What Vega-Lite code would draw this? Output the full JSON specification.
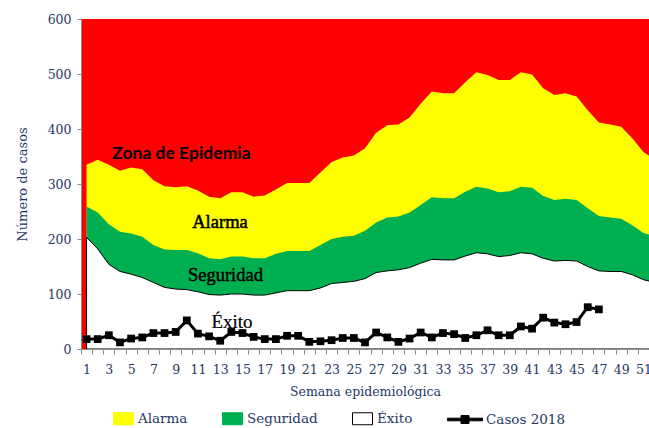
{
  "$schema": "https://vega.github.io/schema/vega-lite/v6.json",
  "width": 568,
  "height": 330,
  "autosize": {"type": "none"},
  "padding": {"left": 81, "top": 19, "right": 0, "bottom": 79},
  "background": "white",
  "view": {"fill": "#FF0000", "stroke": null},
  "resolve": {"axis": {"x": "independent", "y": "independent"}},
  "config": {
    "axis": {
      "labelOverlap": false,
      "labelFlush": false,
      "labelBound": false,
      "grid": false,
      "tickColor": "#8c8c8c",
      "domainColor": "#8c8c8c",
      "labelColor": "#1F3864",
      "titleColor": "#1F3864",
      "labelFont": "DejaVu Serif",
      "labelFontSize": 12.5,
      "titleFont": "DejaVu Serif",
      "titleFontWeight": "normal",
      "zindex": 1
    },
    "axisX": {"tickSize": 5, "tickOffset": -5.57, "labelOffset": 5.57, "labelPadding": 9, "titlePadding": 10, "titleFontSize": 12.5},
    "axisY": {"tickSize": 4, "labelPadding": 6, "titlePadding": 18, "titleFontSize": 13},
    "legend": {
      "labelFont": "DejaVu Serif",
      "labelFontSize": 13.5,
      "labelColor": "#1F3864",
      "symbolSize": 400,
      "symbolStrokeWidth": 1,
      "columnPadding": 32,
      "labelOffset": 4,
      "padding": 0
    }
  },
  "layer": [
    {
      "data": {
        "values": [
          {"semana": 1, "Alarma": 335, "Seguridad": 259, "Éxito": 203, "Casos 2018": 18},
          {"semana": 2, "Alarma": 344, "Seguridad": 248, "Éxito": 182, "Casos 2018": 18},
          {"semana": 3, "Alarma": 335, "Seguridad": 227, "Éxito": 154, "Casos 2018": 25},
          {"semana": 4, "Alarma": 324, "Seguridad": 213, "Éxito": 141, "Casos 2018": 12},
          {"semana": 5, "Alarma": 330, "Seguridad": 210, "Éxito": 136, "Casos 2018": 19},
          {"semana": 6, "Alarma": 327, "Seguridad": 204, "Éxito": 130, "Casos 2018": 21},
          {"semana": 7, "Alarma": 307, "Seguridad": 189, "Éxito": 121, "Casos 2018": 29},
          {"semana": 8, "Alarma": 296, "Seguridad": 181, "Éxito": 112, "Casos 2018": 29},
          {"semana": 9, "Alarma": 294, "Seguridad": 180, "Éxito": 109, "Casos 2018": 31},
          {"semana": 10, "Alarma": 296, "Seguridad": 180, "Éxito": 108, "Casos 2018": 52},
          {"semana": 11, "Alarma": 288, "Seguridad": 174, "Éxito": 104, "Casos 2018": 28},
          {"semana": 12, "Alarma": 277, "Seguridad": 165, "Éxito": 99, "Casos 2018": 23},
          {"semana": 13, "Alarma": 274, "Seguridad": 163, "Éxito": 98, "Casos 2018": 15},
          {"semana": 14, "Alarma": 285, "Seguridad": 168, "Éxito": 100, "Casos 2018": 31},
          {"semana": 15, "Alarma": 285, "Seguridad": 168, "Éxito": 100, "Casos 2018": 29},
          {"semana": 16, "Alarma": 277, "Seguridad": 165, "Éxito": 98, "Casos 2018": 22},
          {"semana": 17, "Alarma": 279, "Seguridad": 165, "Éxito": 98, "Casos 2018": 18},
          {"semana": 18, "Alarma": 290, "Seguridad": 173, "Éxito": 102, "Casos 2018": 18},
          {"semana": 19, "Alarma": 302, "Seguridad": 178, "Éxito": 106, "Casos 2018": 24},
          {"semana": 20, "Alarma": 302, "Seguridad": 178, "Éxito": 106, "Casos 2018": 24},
          {"semana": 21, "Alarma": 302, "Seguridad": 178, "Éxito": 106, "Casos 2018": 13},
          {"semana": 22, "Alarma": 321, "Seguridad": 189, "Éxito": 111, "Casos 2018": 14},
          {"semana": 23, "Alarma": 340, "Seguridad": 200, "Éxito": 119, "Casos 2018": 16},
          {"semana": 24, "Alarma": 348, "Seguridad": 204, "Éxito": 121, "Casos 2018": 20},
          {"semana": 25, "Alarma": 352, "Seguridad": 206, "Éxito": 123, "Casos 2018": 20},
          {"semana": 26, "Alarma": 365, "Seguridad": 215, "Éxito": 128, "Casos 2018": 12},
          {"semana": 27, "Alarma": 393, "Seguridad": 230, "Éxito": 139, "Casos 2018": 30},
          {"semana": 28, "Alarma": 407, "Seguridad": 239, "Éxito": 142, "Casos 2018": 21},
          {"semana": 29, "Alarma": 408, "Seguridad": 241, "Éxito": 144, "Casos 2018": 13},
          {"semana": 30, "Alarma": 421, "Seguridad": 248, "Éxito": 148, "Casos 2018": 19},
          {"semana": 31, "Alarma": 446, "Seguridad": 262, "Éxito": 156, "Casos 2018": 30},
          {"semana": 32, "Alarma": 468, "Seguridad": 276, "Éxito": 163, "Casos 2018": 21},
          {"semana": 33, "Alarma": 465, "Seguridad": 274, "Éxito": 162, "Casos 2018": 29},
          {"semana": 34, "Alarma": 465, "Seguridad": 274, "Éxito": 162, "Casos 2018": 27},
          {"semana": 35, "Alarma": 485, "Seguridad": 286, "Éxito": 169, "Casos 2018": 20},
          {"semana": 36, "Alarma": 503, "Seguridad": 295, "Éxito": 175, "Casos 2018": 25},
          {"semana": 37, "Alarma": 498, "Seguridad": 292, "Éxito": 173, "Casos 2018": 34},
          {"semana": 38, "Alarma": 489, "Seguridad": 285, "Éxito": 168, "Casos 2018": 25},
          {"semana": 39, "Alarma": 489, "Seguridad": 287, "Éxito": 170, "Casos 2018": 25},
          {"semana": 40, "Alarma": 503, "Seguridad": 295, "Éxito": 175, "Casos 2018": 41},
          {"semana": 41, "Alarma": 499, "Seguridad": 293, "Éxito": 173, "Casos 2018": 37},
          {"semana": 42, "Alarma": 474, "Seguridad": 278, "Éxito": 165, "Casos 2018": 57},
          {"semana": 43, "Alarma": 462, "Seguridad": 271, "Éxito": 160, "Casos 2018": 48},
          {"semana": 44, "Alarma": 465, "Seguridad": 273, "Éxito": 161, "Casos 2018": 45},
          {"semana": 45, "Alarma": 459, "Seguridad": 271, "Éxito": 160, "Casos 2018": 49},
          {"semana": 46, "Alarma": 434, "Seguridad": 256, "Éxito": 150, "Casos 2018": 76},
          {"semana": 47, "Alarma": 412, "Seguridad": 242, "Éxito": 142, "Casos 2018": 72},
          {"semana": 48, "Alarma": 408, "Seguridad": 239, "Éxito": 141},
          {"semana": 49, "Alarma": 404, "Seguridad": 237, "Éxito": 141},
          {"semana": 50, "Alarma": 383, "Seguridad": 225, "Éxito": 135},
          {"semana": 51, "Alarma": 358, "Seguridad": 211, "Éxito": 126},
          {"semana": 52, "Alarma": 345, "Seguridad": 205, "Éxito": 121}
        ]
      },
      "transform": [
        {"fold": ["Alarma", "Seguridad", "Éxito", "Casos 2018"], "as": ["serie", "valor"]},
        {"filter": "isValid(datum.valor)"}
      ],
      "encoding": {
        "x": {
          "field": "semana",
          "type": "quantitative",
          "scale": {"domain": [0.5, 51.5], "nice": false, "zero": false},
          "axis": {
            "title": "Semana epidemiológica",
            "values": [1,2,3,4,5,6,7,8,9,10,11,12,13,14,15,16,17,18,19,20,21,22,23,24,25,26,27,28,29,30,31,32,33,34,35,36,37,38,39,40,41,42,43,44,45,46,47,48,49,50,51],
            "labelExpr": "datum.value % 2 == 1 ? datum.label : ''",
            "labelOverlap": false
          }
        },
        "y": {
          "field": "valor",
          "type": "quantitative",
          "scale": {"domain": [0, 600], "nice": false},
          "axis": {
            "title": "Número de casos",
            "values": [0, 100, 200, 300, 400, 500, 600],
            "labelOverlap": false
          }
        }
      },
      "layer": [
        {
          "transform": [{"filter": "datum.serie == 'Alarma'"}],
          "mark": {"type": "area", "fill": "#FFFF00", "clip": true}
        },
        {
          "transform": [{"filter": "datum.serie == 'Seguridad'"}],
          "mark": {"type": "area", "fill": "#00B050", "clip": true}
        },
        {
          "transform": [{"filter": "datum.serie == 'Éxito'"}],
          "mark": {"type": "area", "fill": "#FFFFFF", "stroke": "#000000", "strokeWidth": 1, "clip": true}
        },
        {
          "transform": [{"filter": "datum.serie == 'Casos 2018'"}],
          "mark": {"type": "line", "color": "#000000", "strokeWidth": 3}
        },
        {
          "transform": [{"filter": "datum.serie == 'Casos 2018'"}],
          "mark": {"type": "point", "shape": "square", "filled": true, "color": "#000000", "size": 60, "opacity": 1}
        },
        {
          "transform": [{"filter": "false"}],
          "mark": {"type": "point", "filled": true, "opacity": 1},
          "encoding": {
            "fill": {
              "field": "serie", "type": "nominal",
              "scale": {"domain": ["Alarma", "Seguridad", "Éxito", "Casos 2018"], "range": ["#FFFF00", "#00B050", "#FFFFFF", "#000000"]},
              "legend": {"title": null, "orient": "none", "legendX": 32, "legendY": 389, "direction": "horizontal", "columns": 4}
            },
            "stroke": {
              "field": "serie", "type": "nominal",
              "scale": {"domain": ["Alarma", "Seguridad", "Éxito", "Casos 2018"], "range": ["#FFFF00", "#00B050", "#000000", "#000000"]},
              "legend": {"title": null, "orient": "none", "legendX": 32, "legendY": 389, "direction": "horizontal", "columns": 4}
            },
            "shape": {
              "field": "serie", "type": "nominal",
              "scale": {
                "domain": ["Alarma", "Seguridad", "Éxito", "Casos 2018"],
                "range": [
                  "M-1,-0.6L1,-0.6L1,0.6L-1,0.6Z",
                  "M-1,-0.6L1,-0.6L1,0.6L-1,0.6Z",
                  "M-1,-0.6L1,-0.6L1,0.6L-1,0.6Z",
                  "M-2.4,-0.13L1.1,-0.13L1.1,0.13L-2.4,0.13Z M-1.05,-0.4L-0.25,-0.4L-0.25,0.4L-1.05,0.4Z"
                ]
              },
              "legend": {"title": null, "orient": "none", "legendX": 32, "legendY": 389, "direction": "horizontal", "columns": 4}
            }
          }
        }
      ]
    },
    {
      "data": {"values": [{}]},
      "mark": {"type": "text", "font": "Lato", "fontWeight": "bold", "fontSize": 17.5, "color": "#000000", "align": "center", "baseline": "alphabetic"},
      "encoding": {
        "x": {"datum": 9.52, "type": "quantitative", "axis": null},
        "y": {"datum": 345, "type": "quantitative", "axis": null},
        "text": {"value": "Zona de Epidemia"}
      }
    },
    {
      "data": {"values": [{}]},
      "mark": {"type": "text", "font": "Liberation Serif", "fontSize": 18.5, "color": "#000000", "stroke": "#000000", "strokeWidth": 0.5, "align": "center", "baseline": "alphabetic"},
      "encoding": {
        "x": {"datum": 12.98, "type": "quantitative", "axis": null},
        "y": {"datum": 220, "type": "quantitative", "axis": null},
        "text": {"value": "Alarma"}
      }
    },
    {
      "data": {"values": [{}]},
      "mark": {"type": "text", "font": "Liberation Serif", "fontSize": 18.5, "color": "#000000", "stroke": "#000000", "strokeWidth": 0.5, "align": "center", "baseline": "alphabetic"},
      "encoding": {
        "x": {"datum": 13.47, "type": "quantitative", "axis": null},
        "y": {"datum": 123, "type": "quantitative", "axis": null},
        "text": {"value": "Seguridad"}
      }
    },
    {
      "data": {"values": [{}]},
      "mark": {"type": "text", "font": "Liberation Serif", "fontSize": 19, "color": "#000000", "stroke": "#000000", "strokeWidth": 0.2, "align": "center", "baseline": "alphabetic"},
      "encoding": {
        "x": {"datum": 14.06, "type": "quantitative", "axis": null},
        "y": {"datum": 39, "type": "quantitative", "axis": null},
        "text": {"value": "Éxito"}
      }
    }
  ]
}
